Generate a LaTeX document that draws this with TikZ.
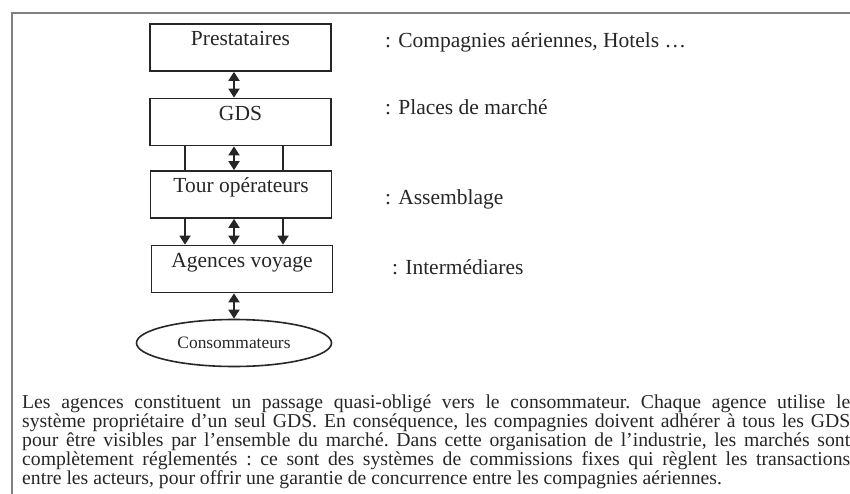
\documentclass[tikz,border=0pt]{standalone}
\usepackage{fontspec}
\setmainfont{Liberation Serif}
\usetikzlibrary{arrows.meta}
\usetikzlibrary{shapes.geometric}

\begin{document}
\begin{tikzpicture}[x = 1pt, y = -1pt, font = \fontsize{21.5}{25}\selectfont]
	\tikzstyle{stageStyle} = [draw = black!85, line width = 1.7pt, minimum width = 181pt, minimum height = 47pt, text height = 14pt, text depth = 17pt, inner sep = 0pt, text = black!85]
	\tikzstyle{roleStyle} = [anchor = base west, inner sep = 0pt, text = black!85]
	\tikzstyle{linkStyle} = [draw = black!85, line width = 1.8pt, {Triangle[width = 11pt, length = 9pt]}-{Triangle[width = 11pt, length = 9pt]}]
	\tikzstyle{feedStyle} = [draw = black!85, line width = 1.8pt, -{Triangle[width = 11pt, length = 9pt]}]
	\clip (0, 0) rectangle (850, 494);
	\useasboundingbox (0, 0) rectangle (850, 494);
	% frame, cut by the page on the right and at the bottom
	\draw[black!50, line width = 1.6pt] (12, 13) rectangle (880, 520);
	% chain of actors
	\node[stageStyle] (presta) at (240.5, 47.5) {Prestataires};
	\node[stageStyle] (gds) at (240.5, 122) {GDS};
	\node[stageStyle] (tour) at (241, 194.5) {Tour opérateurs};
	\node[stageStyle] (agences) at (242, 269) {Agences voyage};
	\node[draw = black!85, line width = 1.6pt, ellipse, minimum width = 195pt, minimum height = 47pt, inner sep = 0pt, text = black!85, font = \fontsize{17.4}{20}\selectfont] (conso) at (234, 343) {Consommateurs};
	% roles
	\node[roleStyle] (lpresta) at (385, 48) {: Compagnies aériennes, Hotels \dots};
	\node[roleStyle] (lgds) at (385, 115) {: Places de marché};
	\node[roleStyle] (ltour) at (385, 205) {: Assemblage};
	\node[roleStyle] (lagences) at (392, 274) {: Intermédiares};
	% links
	\coordinate (lft) at (185, 0);
	\coordinate (rgt) at (283, 0);
	\draw[linkStyle] (presta.south -| conso.center) -- (gds.north -| conso.center);
	\draw[linkStyle] (gds.south -| conso.center) -- (tour.north -| conso.center);
	\draw[linkStyle] (tour.south -| conso.center) -- (agences.north -| conso.center);
	\draw[linkStyle] (agences.south -| conso.center) -- (conso.north);
	\draw[draw = black!85, line width = 1.8pt] (gds.south -| lft) -- (tour.north -| lft);
	\draw[draw = black!85, line width = 1.8pt] (gds.south -| rgt) -- (tour.north -| rgt);
	\draw[feedStyle] (tour.south -| lft) -- (agences.north -| lft);
	\draw[feedStyle] (tour.south -| rgt) -- (agences.north -| rgt);
	% comment text
	\node[anchor = north west, inner sep = 0pt, text width = 828pt, align = justify, text = black!85, font = \fontsize{19.7}{19}\selectfont] (note) at (22, 395) {\frenchspacing\hyphenpenalty=10000 \exhyphenpenalty=10000 \tolerance=10000 Les agences constituent un passage quasi-obligé vers le consommateur. Chaque agence utilise le\linebreak
		système propriétaire d’un seul GDS. En conséquence, les compagnies doivent adhérer à tous les GDS\linebreak
		pour être visibles par l’ensemble du marché. Dans cette organisation de l’industrie, les marchés sont\linebreak
		complètement réglementés : ce sont des systèmes de commissions fixes qui règlent les transactions\linebreak
		entre les acteurs, pour offrir une garantie de concurrence entre les compagnies aériennes.};
\end{tikzpicture}
\end{document}
